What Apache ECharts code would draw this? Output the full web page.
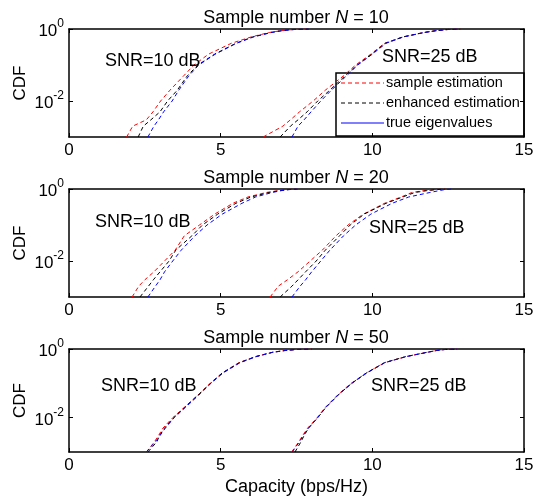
<!DOCTYPE html>
<html>
<head>
<meta charset="utf-8">
<script src="https://cdn.jsdelivr.net/npm/echarts@6/dist/echarts.min.js"></script>
<style>
  html, body { margin: 0; padding: 0; background: #fff; }
  #main { width: 539px; height: 497px; }
</style>
</head>
<body>
<div id="main"></div>
<script>
var myChart = echarts.init(document.getElementById('main'));

// CDF levels shared by all curves
var levels = [0.001, 0.002, 0.003, 0.005, 0.01, 0.02, 0.05, 0.1, 0.2, 0.4, 0.6, 0.8, 0.9, 0.97, 1];

// capacity (bps/Hz) where each curve reaches the levels above
// N = 10
var n10_snr10_sample   = [1.90, 2.10, 2.55, 2.77, 3.02, 3.33, 3.78, 4.12, 4.60, 5.35, 6.00, 6.60, 7.00, 7.40, 7.90];
var n10_snr10_enhanced = [2.28, 2.45, 2.70, 3.00, 3.25, 3.57, 3.90, 4.25, 4.80, 5.50, 6.05, 6.65, 7.00, 7.40, 7.90];
var n10_snr10_true     = [2.60, 2.80, 2.95, 3.12, 3.40, 3.62, 3.95, 4.28, 4.82, 5.52, 6.08, 6.68, 7.05, 7.45, 7.90];
var n10_snr25_sample   = [6.40, 7.05, 7.30, 7.60, 8.05, 8.45, 9.05, 9.45, 9.95, 10.40, 11.00, 11.70, 12.10, 12.50, 12.90];
var n10_snr25_enhanced = [6.96, 7.30, 7.55, 7.85, 8.20, 8.60, 9.10, 9.50, 9.98, 10.42, 11.00, 11.70, 12.10, 12.50, 12.90];
var n10_snr25_true     = [7.35, 7.55, 7.75, 7.98, 8.30, 8.65, 9.15, 9.52, 10.00, 10.45, 11.02, 11.72, 12.12, 12.50, 12.90];
// N = 20
var n20_snr10_sample   = [2.08, 2.30, 2.50, 2.80, 3.15, 3.50, 3.80, 4.30, 4.80, 5.40, 5.90, 6.50, 6.90, 7.20, 7.50];
var n20_snr10_enhanced = [2.34, 2.62, 2.78, 3.00, 3.30, 3.52, 4.05, 4.40, 4.90, 5.50, 6.00, 6.60, 6.95, 7.25, 7.50];
var n20_snr10_true     = [2.60, 2.85, 3.00, 3.15, 3.42, 3.70, 4.15, 4.55, 5.05, 5.70, 6.15, 6.70, 7.00, 7.30, 7.60];
var n20_snr25_sample   = [6.63, 6.90, 7.20, 7.55, 7.95, 8.35, 8.80, 9.20, 9.70, 10.40, 10.95, 11.30, 11.70, 12.10, 12.40];
var n20_snr25_enhanced = [6.96, 7.35, 7.55, 7.80, 8.15, 8.45, 8.92, 9.27, 9.73, 10.45, 11.00, 11.40, 11.80, 12.15, 12.40];
var n20_snr25_true     = [7.35, 7.62, 7.80, 8.00, 8.30, 8.60, 9.05, 9.45, 9.95, 10.65, 11.20, 11.90, 12.20, 12.40, 12.60];
// N = 50
var n50_snr10_sample   = [2.55, 2.82, 2.95, 3.10, 3.42, 3.80, 4.30, 4.65, 5.05, 5.60, 6.15, 6.70, 7.10, 7.50, 8.00];
var n50_snr10_enhanced = [2.60, 2.90, 2.98, 3.15, 3.45, 3.82, 4.30, 4.67, 5.05, 5.62, 6.15, 6.70, 7.10, 7.50, 8.00];
var n50_snr10_true     = [2.55, 2.85, 3.00, 3.18, 3.47, 3.84, 4.33, 4.68, 5.08, 5.64, 6.18, 6.72, 7.12, 7.50, 8.00];
var n50_snr25_sample   = [7.34, 7.58, 7.70, 7.87, 8.18, 8.45, 8.90, 9.30, 9.80, 10.40, 11.10, 11.80, 12.10, 12.40, 12.80];
var n50_snr25_enhanced = [7.45, 7.65, 7.75, 7.90, 8.20, 8.47, 8.92, 9.32, 9.80, 10.40, 11.10, 11.80, 12.10, 12.40, 12.80];
var n50_snr25_true     = [7.36, 7.60, 7.72, 7.90, 8.20, 8.47, 8.92, 9.33, 9.82, 10.42, 11.12, 11.82, 12.12, 12.40, 12.80];

var sampleNumbers = ['10', '20', '50'];
var seriesNames = ['sample estimation', 'enhanced estimation', 'true eigenvalues'];
var seriesColors = ['#ff0000', '#000000', '#0000ff'];

var curves = [
  [[n10_snr10_sample, n10_snr10_enhanced, n10_snr10_true], [n10_snr25_sample, n10_snr25_enhanced, n10_snr25_true]],
  [[n20_snr10_sample, n20_snr10_enhanced, n20_snr10_true], [n20_snr25_sample, n20_snr25_enhanced, n20_snr25_true]],
  [[n50_snr10_sample, n50_snr10_enhanced, n50_snr10_true], [n50_snr25_sample, n50_snr25_enhanced, n50_snr25_true]]
];

var font = '"Liberation Sans", Arial, sans-serif';
var gridTops = [29, 189, 349];
var gridH = 108;

var grids = [], xAxes = [], yAxes = [], series = [], titles = [];

gridTops.forEach(function (top, g) {
  grids.push({ left: 69, right: 15, top: top, height: gridH });

  var boxLine = { show: true, onZero: false, lineStyle: { color: '#000', width: 1.5 } };
  var tick = { show: true, inside: true, length: 4, lineStyle: { color: '#000' } };

  xAxes.push({
    type: 'value', gridIndex: g, min: 0, max: 15, interval: 5, position: 'bottom',
    axisLine: boxLine, axisTick: tick, splitLine: { show: false },
    axisLabel: { color: '#000', fontSize: 17, fontFamily: font, margin: 5 },
    name: g === 2 ? 'Capacity (bps/Hz)' : '',
    nameLocation: 'middle', nameGap: 26,
    nameTextStyle: { color: '#000', fontSize: 18, fontFamily: font }
  });
  xAxes.push({
    type: 'value', gridIndex: g, min: 0, max: 15, interval: 5, position: 'top',
    axisLine: boxLine, axisTick: tick, splitLine: { show: false }, axisLabel: { show: false }
  });

  var yTick = { show: true, inside: true, length: 4, customValues: [0.01, 1], lineStyle: { color: '#000' } };
  yAxes.push({
    type: 'log', logBase: 10, gridIndex: g, min: 0.001, max: 1, position: 'left',
    axisLine: boxLine, axisTick: yTick, splitLine: { show: false }, minorTick: { show: false },
    axisLabel: {
      customValues: [0.01, 1], margin: 5,
      formatter: function (v) {
        var e = Math.round(Math.log10(v));
        return '{b|10}{s|' + e + '}';
      },
      rich: {
        b: { fontSize: 17, fontFamily: font, color: '#000', lineHeight: 22, verticalAlign: 'bottom' },
        s: { fontSize: 12, fontFamily: font, color: '#000', verticalAlign: 'top' }
      }
    },
    name: 'CDF', nameLocation: 'middle', nameGap: 40, nameMoveOverlap: false,
    nameTextStyle: { color: '#000', fontSize: 17, fontFamily: font }
  });
  yAxes.push({
    type: 'log', logBase: 10, gridIndex: g, min: 0.001, max: 1, position: 'right',
    axisLine: boxLine, axisTick: yTick, splitLine: { show: false }, axisLabel: { show: false }
  });

  titles.push({
    text: '{a|Sample number }{i|N}{a| = ' + sampleNumbers[g] + '}',
    left: 296, top: top - 20, textAlign: 'center', padding: 0,
    textStyle: {
      fontWeight: 'normal',
      rich: {
        a: { fontSize: 18, fontFamily: font, color: '#000', fontWeight: 'normal' },
        i: { fontSize: 18, fontFamily: font, color: '#000', fontWeight: 'normal', fontStyle: 'italic' }
      }
    }
  });

  curves[g].forEach(function (snrGroup) {
    snrGroup.forEach(function (caps, k) {
      series.push({
        name: seriesNames[k],
        type: 'line',
        xAxisIndex: 2 * g,
        yAxisIndex: 2 * g,
        symbol: 'none',
        clip: true,
        color: seriesColors[k],
        lineStyle: { color: seriesColors[k], width: 1, type: [4, 3] },
        data: caps.map(function (c, i) { return [c, levels[i]]; })
      });
    });
  });
});

// SNR annotations
var notes = [
  { text: 'SNR=10 dB', x: 105, y: 62 }, { text: 'SNR=25 dB', x: 382, y: 58 },
  { text: 'SNR=10 dB', x: 95, y: 223 }, { text: 'SNR=25 dB', x: 369, y: 229 },
  { text: 'SNR=10 dB', x: 101, y: 387 }, { text: 'SNR=25 dB', x: 371, y: 387 }
];

var graphics = notes.map(function (n) {
  return {
    type: 'text', left: n.x, top: n.y - 10, z: 10,
    style: { text: n.text, fontSize: 18, fontFamily: font, fill: '#000' }
  };
});

// legend box, drawn as a graphic group in the top panel
var legendItems = [];
seriesNames.forEach(function (name, k) {
  var y = 10 + k * 20;
  legendItems.push({
    type: 'line',
    shape: { x1: 5, y1: y, x2: 48, y2: y },
    style: { stroke: seriesColors[k], lineWidth: 1, lineDash: k === 2 ? null : [4, 3] }
  });
  legendItems.push({
    type: 'text', x: 50, y: y,
    style: { text: name, fontSize: 14.5, fontFamily: font, fill: '#000', verticalAlign: 'middle' }
  });
});
graphics.push({
  type: 'group', x: 336, y: 73, z: 100,
  children: [{
    type: 'rect',
    shape: { x: 0, y: 0, width: 188, height: 63 },
    style: { fill: '#fff', stroke: '#000', lineWidth: 1.5 }
  }].concat(legendItems)
});

var option = {
  animation: false,
  backgroundColor: '#fff',
  textStyle: { fontFamily: font },
  title: titles,
  grid: grids,
  xAxis: xAxes,
  yAxis: yAxes,
  graphic: graphics,
  series: series
};
myChart.setOption(option);
</script>
</body>
</html>
